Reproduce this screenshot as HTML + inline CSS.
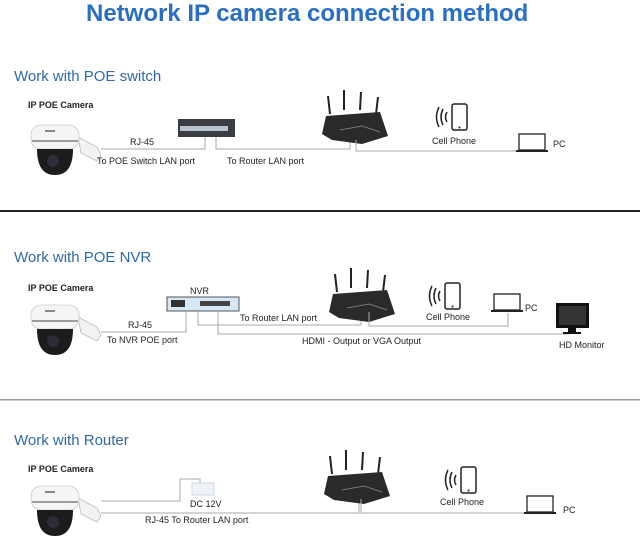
<!DOCTYPE html>
<html><head><meta charset="utf-8"><style>
html,body{margin:0;padding:0;background:#fff;}
svg{display:block;}
text{font-family:"Liberation Sans",sans-serif;}
.t{font-size:9px;fill:#222;}
.h{font-size:15px;fill:#2f6aa6;}
.ln{stroke:#aaa;stroke-width:1;fill:none;}
</style></head><body>
<svg width="640" height="536" viewBox="0 0 640 536" xmlns="http://www.w3.org/2000/svg">
<defs>
<g id="cam">
  <path d="M47,12 L66,22 L70,30 L66,36 L50,28 Z" fill="#f2f2f2" stroke="#bbb" stroke-width="0.8"/>
  <rect x="0" y="0" width="48" height="24" rx="10" fill="#f5f5f5" stroke="#ccc" stroke-width="0.8"/>
  <path d="M1,16 H47" stroke="#444" stroke-width="1"/>
  <rect x="14" y="5" width="10" height="2" fill="#888"/>
  <path d="M6,24 Q6,50 24,50 Q42,50 42,24 Z" fill="#1c1c1e"/>
  <circle cx="22" cy="36" r="6" fill="#2c2c3a"/>
</g>
<g id="router">
  <line x1="8" y1="18" x2="6" y2="0" stroke="#222" stroke-width="2"/>
  <line x1="22" y1="14" x2="22" y2="-6" stroke="#222" stroke-width="2"/>
  <line x1="38" y1="14" x2="39" y2="-4" stroke="#222" stroke-width="2"/>
  <line x1="54" y1="18" x2="56" y2="1" stroke="#222" stroke-width="2"/>
  <path d="M4,20 L58,16 L66,40 L40,48 L10,44 L0,38 Z" fill="#2a2a2c"/>
  <path d="M18,34 L40,30 L58,36" stroke="#777" stroke-width="1" fill="none"/>
</g>
<g id="phone">
  <rect x="0" y="0" width="15" height="26" rx="2" fill="#fff" stroke="#222" stroke-width="1.5"/>
  <rect x="3" y="3" width="9" height="18" fill="#fff"/>
  <circle cx="7.5" cy="23.5" r="1" fill="#222"/>
  <path d="M-5,8 Q-8,13 -5,18 M-9,5 Q-13,13 -9,21 M-13,3 Q-18,13 -13,23" stroke="#222" stroke-width="1.5" fill="none"/>
</g>
<g id="pc">
  <rect x="3" y="0" width="26" height="16" fill="#fff" stroke="#222" stroke-width="1.3"/>
  <rect x="0" y="16" width="32" height="2" fill="#222"/>
</g>
</defs>

<text x="86" y="21" style="font-size:24px;font-weight:bold;fill:#2a6fc6">Network IP camera connection method</text>

<!-- Section 1 -->
<text x="14" y="81" class="h">Work with POE switch</text>
<text x="28" y="108" class="t" style="font-weight:bold">IP POE Camera</text>
<use href="#cam" x="31" y="125"/>
<path class="ln" d="M101,149 H205 V137"/>
<rect x="178" y="119" width="57" height="18" fill="#3a3d42"/>
<rect x="180" y="126" width="48" height="5" fill="#b8c2cc"/>
<text x="130" y="145" class="t">RJ-45</text>
<text x="97" y="164" class="t">To POE Switch LAN port</text>
<path class="ln" d="M216,137 V149 H350 V140"/>
<text x="227" y="164" class="t">To Router LAN port</text>
<use href="#router" x="322" y="96"/>
<path class="ln" d="M356,140 V151 H520"/>
<use href="#phone" x="452" y="104"/>
<text x="432" y="144" class="t">Cell Phone</text>
<use href="#pc" x="516" y="134"/>
<text x="553" y="147" class="t">PC</text>
<rect x="0" y="210" width="640" height="2" fill="#222"/>

<!-- Section 2 -->
<text x="14" y="262" class="h">Work with POE NVR</text>
<text x="28" y="291" class="t" style="font-weight:bold">IP POE Camera</text>
<use href="#cam" x="31" y="305"/>
<text x="190" y="294" class="t">NVR</text>
<rect x="167" y="297" width="72" height="14" fill="#d6e8f5" stroke="#555" stroke-width="1"/>
<rect x="171" y="300" width="14" height="7" fill="#333"/>
<rect x="200" y="301" width="30" height="5" fill="#444"/>
<path class="ln" d="M101,332 H186 V311"/>
<text x="128" y="328" class="t">RJ-45</text>
<text x="107" y="343" class="t">To NVR POE port</text>
<path class="ln" d="M198,311 V325 H361 V310"/>
<text x="240" y="321" class="t">To Router LAN port</text>
<path class="ln" d="M218,311 V334 H569 V333"/>
<text x="302" y="344" class="t">HDMI - Output or VGA Output</text>
<use href="#router" x="329" y="274"/>
<path class="ln" d="M369,312 V326 H508 V313"/>
<use href="#phone" x="445" y="283"/>
<text x="426" y="320" class="t">Cell Phone</text>
<use href="#pc" x="491" y="294"/>
<text x="525" y="311" class="t">PC</text>
<rect x="556" y="303" width="33" height="25" fill="#111"/>
<rect x="559" y="306" width="27" height="19" fill="#333"/>
<rect x="568" y="328" width="8" height="4" fill="#111"/>
<rect x="563" y="332" width="18" height="2" fill="#111"/>
<text x="559" y="348" class="t">HD Monitor</text>
<rect x="0" y="399" width="640" height="1.5" fill="#999"/>

<!-- Section 3 -->
<text x="14" y="445" class="h">Work with Router</text>
<text x="28" y="472" class="t" style="font-weight:bold">IP POE Camera</text>
<use href="#cam" x="31" y="486"/>
<path class="ln" d="M101,501 H180 V479 H200 V483"/>
<rect x="192" y="483" width="22" height="12" fill="#eef3f8" stroke="#ccd" stroke-width="0.8"/>
<text x="190" y="507" class="t">DC 12V</text>
<path class="ln" d="M101,513 H359 V499"/>
<text x="145" y="523" class="t">RJ-45 To Router LAN port</text>
<use href="#router" x="324" y="456"/>
<path class="ln" d="M361,499 V513 H524"/>
<use href="#phone" x="461" y="467"/>
<text x="440" y="505" class="t">Cell Phone</text>
<use href="#pc" x="524" y="496"/>
<text x="563" y="513" class="t">PC</text>
</svg>
</body></html>
